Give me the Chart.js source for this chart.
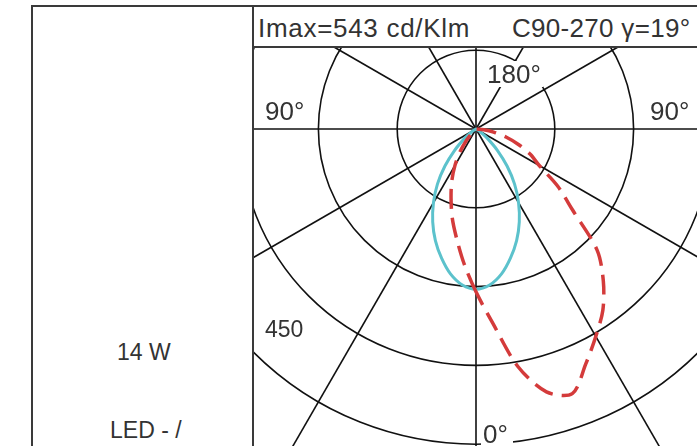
<!DOCTYPE html>
<html><head><meta charset="utf-8">
<script src="https://cdn.jsdelivr.net/npm/chart.js@4.4.1/dist/chart.umd.min.js"></script>
<style>
html,body{margin:0;padding:0;background:#fff;}
body{width:697px;height:446px;position:relative;overflow:hidden;font-family:"Liberation Sans",Arial,sans-serif;color:#333;}
.ln{position:absolute;background:#3a3a3a;}
.t{position:absolute;white-space:nowrap;line-height:1;}
.bg{background:#fff;padding:0 2px;}
#clip{position:absolute;left:254px;top:48px;width:443px;height:398px;overflow:hidden;}
#wrap{position:absolute;left:-172px;top:-313px;width:788px;height:788px;}
</style></head><body>
<div id="clip"><div id="wrap"><canvas id="c" width="788" height="788"></canvas></div></div>

<div class="ln" style="left:31px;top:5px;width:666px;height:2px"></div>
<div class="ln" style="left:31px;top:5px;width:2px;height:441px"></div>
<div class="ln" style="left:252px;top:5px;width:2px;height:441px"></div>
<div class="ln" style="left:253px;top:46px;width:444px;height:2px"></div>

<div class="t" style="left:258px;top:15px;font-size:26px;letter-spacing:0.7px">Imax=543 cd/Klm</div>
<div class="t" style="left:512px;top:15px;font-size:26px;letter-spacing:0.3px">C90-270 γ=19°</div>
<div class="t bg" style="left:485px;top:61px;font-size:26px">180°</div>
<div class="t" style="left:265px;top:98px;font-size:26px">90°</div>
<div class="t" style="left:650px;top:98px;font-size:26px">90°</div>
<div class="t bg" style="left:481px;top:421px;font-size:26px;padding-right:5px">0°</div>
<div class="t" style="left:265px;top:318px;font-size:23px">450</div>
<div class="t" style="left:117px;top:341px;font-size:23px">14 W</div>
<div class="t" style="left:110px;top:419px;font-size:23px">LED - /</div>

<script>
// gamma angles (degrees from nadir) at which intensities are read, 5° steps
const gammaDeg = [0,5,10,15,20,25,30,35,40,45,50,55,60,65,70,75,80,85,90];
// C0-180 plane (cyan, symmetric), cd/klm
const cyanC0_180 = [305,298,280,254,226,195,162,128,92,58,30,12,4,0,0,0,0,0,0];
// C90 side (red, right half of diagram), cd/klm
const redC90 = [310,372,459,518,536,494,456,421,377,326,240,190,139,114,86,59,34,15,0];
// C270 side (red, left half of diagram), cd/klm
const redC270 = [310,258,212,175,139,109,80,53,28,10,0,0,0,0,0,0,0,0,0];
const ringStep = 150;
const rMax = 750;
const spokeEvery = 30;
const sampleStep = 5;

// radar labels: clockwise from nadir (left half first, then right half)
const labels = [];
const cyanData = [], redData = [];
for (let a = 0; a < 360; a += sampleStep) {
  labels.push(a + '°');
  const left = a <= 180;
  const g = left ? a : 360 - a;
  const k = gammaDeg.indexOf(g);
  cyanData.push(k >= 0 ? cyanC0_180[k] : 0);
  redData.push(k >= 0 ? (left ? redC270[k] : redC90[k]) : 0);
}

new Chart(document.getElementById('c'), {
  type: 'radar',
  data: {
    labels: labels,
    datasets: [
      {label:'C90-270', data: redData, borderColor:'#d43b3b', borderWidth:3.5, borderDash:[20,9],
       pointRadius:0, fill:false, tension:0.3},
      {label:'C0-180', data: cyanData, borderColor:'#5cc2cc', borderWidth:3,
       pointRadius:0, fill:false, tension:0.3}
    ]
  },
  options: {
    responsive:false, animation:false, devicePixelRatio:1,
    layout:{padding:0},
    plugins:{legend:{display:false}, tooltip:{enabled:false}},
    scales:{
      r:{
        min:0, max:rMax, startAngle:180,
        ticks:{display:false, stepSize:ringStep},
        pointLabels:{display:false},
        grid:{circular:true, color:'#111', lineWidth:1.6},
        angleLines:{color: c => (c.index*sampleStep) % spokeEvery === 0 ? '#111' : 'rgba(0,0,0,0)', lineWidth:1.6}
      }
    }
  }
});
</script>
</body></html>
